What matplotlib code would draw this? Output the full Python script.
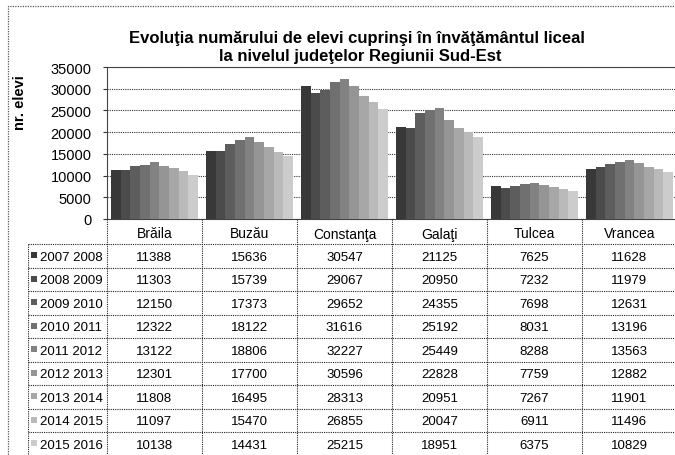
import numpy as np
import matplotlib
matplotlib.use("Agg")
import matplotlib.pyplot as plt
from matplotlib import font_manager
from matplotlib.patches import Rectangle

judete = ["Brăila", "Buzău", "Constanţa", "Galaţi", "Tulcea", "Vrancea"]
ani = ["2007 2008", "2008 2009", "2009 2010", "2010 2011", "2011 2012",
       "2012 2013", "2013 2014", "2014 2015", "2015 2016"]

elevi_2007 = [11388, 15636, 30547, 21125, 7625, 11628]
elevi_2008 = [11303, 15739, 29067, 20950, 7232, 11979]
elevi_2009 = [12150, 17373, 29652, 24355, 7698, 12631]
elevi_2010 = [12322, 18122, 31616, 25192, 8031, 13196]
elevi_2011 = [13122, 18806, 32227, 25449, 8288, 13563]
elevi_2012 = [12301, 17700, 30596, 22828, 7759, 12882]
elevi_2013 = [11808, 16495, 28313, 20951, 7267, 11901]
elevi_2014 = [11097, 15470, 26855, 20047, 6911, 11496]
elevi_2015 = [10138, 14431, 25215, 18951, 6375, 10829]

serii = [elevi_2007, elevi_2008, elevi_2009, elevi_2010, elevi_2011,
         elevi_2012, elevi_2013, elevi_2014, elevi_2015]

yticks = [0, 5000, 10000, 15000, 20000, 25000, 30000, 35000]

# font: narrow Arial look-alike if available
names = {f.name for f in font_manager.fontManager.ttflist}
fam = "Liberation Sans Narrow" if "Liberation Sans Narrow" in names else "Liberation Sans"
plt.rcParams["font.family"] = [fam, "DejaVu Sans"]

W, H = 675, 456
fig = plt.figure(figsize=(W / 100, H / 100), dpi=100)


def px_box(x0, y0, x1, y1):
    return [x0 / W, 1 - y1 / H, (x1 - x0) / W, (y1 - y0) / H]


# outer dotted frame
fig.patches.append(Rectangle((8 / W, -0.05), 1.2, 1 - 7 / H + 0.05, transform=fig.transFigure,
                             fill=False, ec="#555555", lw=0.9, ls=(0, (1, 1))))

PL, PR, PT, PB = 107, 677, 68, 220
ax = fig.add_axes(px_box(PL, PT, PR, PB))

n = len(serii)
grays = np.linspace(0.22, 0.80, n)
colors = [(g, g, g) for g in grays]
x = np.arange(len(judete))
group = 0.92
w = group / n
for i, s in enumerate(serii):
    ax.bar(x - group / 2 + w * (i + 0.5), s, width=w, color=colors[i], edgecolor="none",
           zorder=3)

ax.set_xlim(-0.5, len(judete) - 0.5)
ax.set_ylim(0, 35000)
ax.set_yticks(yticks)
ax.set_yticklabels([str(t) for t in yticks], fontsize=10.5)
ax.set_xticks([])
ax.tick_params(axis="y", length=3, width=0.8, pad=8, color="#333333")
ax.yaxis.grid(True, color="#333333", lw=0.8, ls=(0, (1, 1)), zorder=0)
for sp in ax.spines.values():
    sp.set_linestyle((0, (1, 1)))
    sp.set_color("#444444")
    sp.set_linewidth(0.8)
ax.set_ylabel("nr. elevi", fontsize=10.5, fontweight="bold")
ax.yaxis.set_label_coords(-0.14, 0.77)

fig.text(357 / W, 1 - 38 / H, "Evoluţia numărului de elevi cuprinşi în învăţământul liceal",
         ha="center", va="center", fontsize=12, fontweight="bold")
fig.text(360 / W, 1 - 57 / H, "la nivelul judeţelor Regiunii Sud-Est",
         ha="center", va="center", fontsize=12, fontweight="bold")

# data table under the plot, in pixel coordinates
TL, TB = 28, 460
ROW0 = 245
rh = 23.5
tab = fig.add_axes(px_box(TL, PB, PR, TB))
tab.set_xlim(TL, PR)
tab.set_ylim(TB, PB)
tab.axis("off")
colw = (PR - PL) / len(judete)
dot = dict(color="#222222", lw=0.8, ls=(0, (1, 1)))

# header row
for j, jud in enumerate(judete):
    tab.text(PL + colw * (j + 0.5), (PB + ROW0) / 2 + 2, jud, ha="center", va="center",
             fontsize=10)
for j in range(len(judete) + 1):
    tab.plot([PL + colw * j] * 2, [PB, ROW0 + rh * n], **dot)
tab.plot([TL, PR], [ROW0, ROW0], **dot)
tab.plot([TL, TL], [ROW0, ROW0 + rh * n], **dot)

for i, (an, s) in enumerate(zip(ani, serii)):
    yc = ROW0 + rh * (i + 0.5)
    tab.plot([TL, PR], [ROW0 + rh * (i + 1)] * 2, **dot)
    tab.add_patch(Rectangle((31, yc - 3.5), 6, 6, color=colors[i], lw=0))
    tab.text(40, yc + 1, an, ha="left", va="center", fontsize=9.5)
    for j, v in enumerate(s):
        tab.text(PL + colw * (j + 0.5), yc + 1, str(v), ha="center", va="center", fontsize=9.5)

fig.savefig("out.png", dpi=100)
